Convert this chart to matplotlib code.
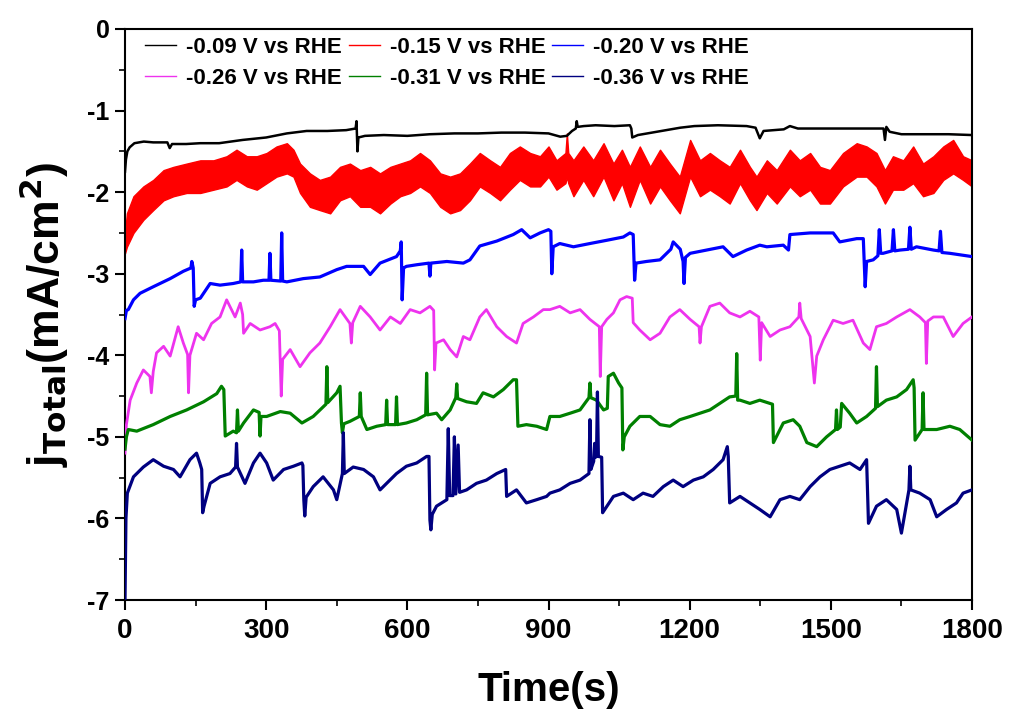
import matplotlib
matplotlib.use("Agg")
import matplotlib.pyplot as plt
from matplotlib.lines import Line2D
from matplotlib.ticker import MultipleLocator

# ---------------- data ----------------
labels = ["-0.09 V vs RHE", "-0.15 V vs RHE", "-0.20 V vs RHE",
          "-0.26 V vs RHE", "-0.31 V vs RHE", "-0.36 V vs RHE"]
colors = ["#000000", "#ff0000", "#0000ff", "#ee33ee", "#008000", "#000080"]

black_t = [0, 2, 5, 10, 20, 40, 60, 90, 95, 100, 130, 160, 200, 250, 300, 344, 386, 430, 470, 490,
           492, 494, 496, 510, 550, 600, 648, 700, 750, 800, 850, 900, 925, 939, 950, 958, 960, 962,
           975, 1000, 1040, 1073, 1076, 1078, 1090, 1120, 1150, 1180, 1210, 1260, 1321, 1340, 1349,
           1357, 1400, 1413, 1430, 1480, 1530, 1580, 1612, 1615, 1618, 1625, 1650, 1700, 1750, 1800]
black_j = [-1.75, -1.60, -1.50, -1.45, -1.40, -1.38, -1.39, -1.39, -1.46, -1.41, -1.41, -1.40, -1.40,
           -1.36, -1.33, -1.28, -1.25, -1.25, -1.24, -1.22, -1.13, -1.50, -1.33, -1.31, -1.30, -1.31,
           -1.29, -1.28, -1.28, -1.27, -1.27, -1.28, -1.32, -1.31, -1.25, -1.22, -1.13, -1.20, -1.19,
           -1.18, -1.19, -1.18, -1.22, -1.33, -1.30, -1.27, -1.24, -1.21, -1.19, -1.18, -1.19, -1.21,
           -1.34, -1.25, -1.23, -1.19, -1.22, -1.22, -1.22, -1.22, -1.22, -1.36, -1.20, -1.26, -1.29,
           -1.29, -1.29, -1.30]

red_t = [0, 4, 18, 39, 60, 82, 103, 131, 160, 188, 216, 237, 259, 280, 301, 322, 344, 358, 372, 393,
         414, 436, 457, 478, 500, 521, 542, 564, 585, 606, 627, 648, 670, 691, 712, 733, 754, 776,
         797, 818, 839, 861, 882, 900, 917, 936, 939, 942, 953, 974, 995, 1017, 1038, 1056, 1073,
         1094, 1116, 1137, 1158, 1179, 1201, 1222, 1243, 1264, 1285, 1307, 1328, 1342, 1364, 1385,
         1413, 1434, 1456, 1477, 1498, 1526, 1555, 1576, 1597, 1615, 1632, 1654, 1675, 1696, 1718,
         1739, 1760, 1781, 1800]
red_hi = [-2.50, -2.26, -2.05, -1.93, -1.85, -1.73, -1.69, -1.65, -1.61, -1.61, -1.56, -1.48, -1.56,
          -1.56, -1.52, -1.44, -1.40, -1.48, -1.65, -1.77, -1.85, -1.81, -1.69, -1.65, -1.73, -1.69,
          -1.77, -1.69, -1.65, -1.61, -1.52, -1.61, -1.77, -1.81, -1.77, -1.65, -1.52, -1.61, -1.69,
          -1.52, -1.44, -1.52, -1.56, -1.44, -1.61, -1.52, -1.28, -1.52, -1.61, -1.44, -1.61, -1.40,
          -1.65, -1.48, -1.69, -1.44, -1.69, -1.48, -1.65, -1.81, -1.36, -1.61, -1.52, -1.61, -1.69,
          -1.48, -1.69, -1.81, -1.61, -1.73, -1.48, -1.61, -1.52, -1.69, -1.73, -1.52, -1.40, -1.44,
          -1.52, -1.73, -1.56, -1.61, -1.44, -1.65, -1.56, -1.44, -1.36, -1.56, -1.61]
red_lo = [-2.75, -2.67, -2.50, -2.34, -2.22, -2.10, -2.05, -2.01, -2.01, -1.97, -1.93, -1.85, -1.93,
          -1.97, -1.89, -1.81, -1.77, -1.81, -2.01, -2.18, -2.22, -2.26, -2.10, -2.05, -2.18, -2.18,
          -2.26, -2.14, -2.05, -2.01, -1.93, -2.01, -2.18, -2.26, -2.22, -2.10, -1.93, -2.01, -2.10,
          -1.97, -1.85, -1.93, -1.93, -1.81, -1.97, -1.89, -1.81, -1.89, -2.05, -1.85, -2.05, -1.81,
          -2.10, -1.89, -2.18, -1.85, -2.14, -1.93, -2.10, -2.26, -1.81, -2.05, -1.97, -2.05, -2.14,
          -1.89, -2.10, -2.22, -2.01, -2.14, -1.93, -2.05, -1.97, -2.14, -2.14, -1.93, -1.81, -1.81,
          -1.93, -2.14, -1.97, -1.97, -1.89, -2.05, -2.01, -1.85, -1.77, -1.85, -1.93]

blue_t = [0, 3, 7, 18, 32, 60, 96, 124, 140, 142, 145, 147, 150, 160, 181, 202, 230, 246, 248, 250,
          273, 294, 306, 308, 310, 331, 333, 335, 344, 379, 414, 450, 471, 507, 521, 542, 577, 585,
          587, 589, 592, 598, 620, 646, 648, 650, 684, 719, 733, 754, 790, 825, 843, 861, 882, 900,
          905, 907, 910, 924, 953, 988, 1024, 1059, 1073, 1080, 1083, 1086, 1108, 1137, 1160, 1165,
          1180, 1186, 1188, 1191, 1201, 1236, 1271, 1292, 1321, 1349, 1364, 1399, 1410, 1413, 1456,
          1505, 1519, 1555, 1569, 1573, 1576, 1590, 1600, 1603, 1606, 1611, 1630, 1633, 1636, 1647,
          1665, 1668, 1671, 1682, 1718, 1730, 1733, 1736, 1753, 1800]
blue_j = [-3.55, -3.45, -3.44, -3.32, -3.24, -3.16, -3.06, -2.97, -2.93, -2.85, -2.93, -3.40, -3.32,
          -3.30, -3.12, -3.14, -3.12, -3.10, -2.71, -3.10, -3.10, -3.08, -3.08, -2.75, -3.08, -3.09,
          -2.50, -3.09, -3.10, -3.06, -3.04, -2.95, -2.91, -2.91, -3.01, -2.87, -2.79, -2.72, -2.61,
          -3.32, -2.93, -2.91, -2.89, -2.87, -3.03, -2.87, -2.85, -2.87, -2.83, -2.66, -2.60, -2.52,
          -2.46, -2.56, -2.50, -2.46, -2.48, -3.00, -2.67, -2.63, -2.67, -2.63, -2.59, -2.55, -2.50,
          -2.52, -3.08, -2.87, -2.85, -2.83, -2.70, -2.61, -2.70, -2.85, -3.12, -2.80, -2.75, -2.71,
          -2.67, -2.79, -2.71, -2.65, -2.67, -2.65, -2.71, -2.52, -2.50, -2.50, -2.61, -2.57, -2.57,
          -3.16, -2.85, -2.83, -2.78, -2.46, -2.75, -2.75, -2.72, -2.46, -2.72, -2.71, -2.70, -2.43,
          -2.70, -2.67, -2.71, -2.72, -2.48, -2.74, -2.75, -2.79]

mag_t = [0, 3, 11, 25, 39, 53, 56, 60, 67, 82, 96, 113, 124, 133, 135, 138, 152, 167, 184, 202, 216,
         234, 245, 250, 252, 266, 287, 308, 319, 328, 330, 332, 335, 351, 372, 393, 414, 436, 457, 478,
         481, 484, 500, 521, 542, 564, 585, 606, 627, 648, 656, 658, 661, 677, 691, 705, 719, 733, 754,
         768, 790, 811, 832, 846, 868, 889, 903, 924, 946, 967, 988, 1008, 1010, 1013, 1024, 1038,
         1052, 1066, 1078, 1080, 1094, 1116, 1137, 1158, 1179, 1201, 1220, 1222, 1225, 1243, 1264,
         1285, 1307, 1328, 1347, 1350, 1353, 1371, 1392, 1413, 1432, 1434, 1437, 1456, 1465, 1470,
         1484, 1505, 1526, 1547, 1569, 1583, 1597, 1618, 1640, 1668, 1689, 1701, 1703, 1706, 1718,
         1739, 1760, 1781, 1800]
mag_j = [-5.20, -4.85, -4.55, -4.34, -4.18, -4.26, -4.46, -4.20, -3.97, -3.89, -4.01, -3.65, -3.85,
         -3.99, -4.46, -4.00, -3.73, -3.81, -3.61, -3.53, -3.32, -3.53, -3.36, -3.50, -3.73, -3.61,
         -3.69, -3.65, -3.61, -3.70, -4.10, -4.50, -4.05, -3.93, -4.14, -3.97, -3.85, -3.65, -3.44,
         -3.61, -3.85, -3.60, -3.40, -3.53, -3.69, -3.53, -3.61, -3.44, -3.48, -3.40, -3.45, -4.18,
         -3.85, -3.81, -3.93, -4.02, -3.77, -3.81, -3.53, -3.44, -3.65, -3.77, -3.85, -3.61, -3.53,
         -3.44, -3.44, -3.40, -3.48, -3.44, -3.56, -3.65, -4.26, -3.65, -3.56, -3.48, -3.32, -3.28,
         -3.30, -3.60, -3.69, -3.81, -3.73, -3.53, -3.44, -3.56, -3.65, -3.85, -3.65, -3.40, -3.36,
         -3.48, -3.53, -3.46, -3.53, -4.06, -3.60, -3.77, -3.69, -3.65, -3.53, -3.36, -3.55, -3.77,
         -4.34, -4.01, -3.81, -3.57, -3.61, -3.57, -3.85, -3.93, -3.65, -3.61, -3.53, -3.44, -3.53,
         -3.60, -4.10, -3.58, -3.53, -3.53, -3.77, -3.61, -3.53]

green_t = [0, 3, 7, 25, 60, 96, 131, 167, 195, 205, 210, 213, 230, 237, 239, 241, 252, 273, 285, 287,
           289, 301, 330, 351, 376, 400, 427, 429, 431, 450, 457, 460, 462, 465, 478, 498, 500, 502,
           514, 535, 554, 556, 558, 575, 577, 579, 598, 620, 639, 641, 643, 662, 673, 691, 703, 705,
           707, 726, 747, 761, 783, 804, 825, 832, 835, 853, 875, 896, 903, 924, 946, 967, 986, 988,
           990, 1002, 1017, 1025, 1027, 1038, 1049, 1056, 1058, 1061, 1073, 1094, 1116, 1137, 1158,
           1179, 1201, 1222, 1243, 1264, 1285, 1298, 1300, 1302, 1307, 1328, 1349, 1371, 1376, 1378,
           1399, 1420, 1434, 1449, 1470, 1491, 1510, 1512, 1514, 1520, 1523, 1540, 1555, 1576, 1595,
           1597, 1599, 1618, 1640, 1661, 1675, 1677, 1679, 1694, 1696, 1698, 1725, 1753, 1774, 1800]
green_j = [-5.15, -5.00, -4.91, -4.93, -4.85, -4.75, -4.67, -4.57, -4.47, -4.38, -4.42, -4.99, -4.93,
           -4.95, -4.67, -4.93, -4.83, -4.67, -4.70, -4.99, -4.75, -4.75, -4.69, -4.71, -4.83, -4.75,
           -4.60, -4.14, -4.58, -4.46, -4.38, -4.83, -4.95, -4.84, -4.81, -4.75, -4.46, -4.75, -4.91,
           -4.87, -4.85, -4.55, -4.85, -4.85, -4.51, -4.85, -4.83, -4.79, -4.73, -4.22, -4.73, -4.71,
           -4.79, -4.67, -4.52, -4.35, -4.53, -4.57, -4.59, -4.46, -4.51, -4.42, -4.30, -4.30, -4.87,
           -4.85, -4.87, -4.91, -4.75, -4.75, -4.71, -4.67, -4.52, -4.34, -4.52, -4.55, -4.67, -4.65,
           -4.26, -4.22, -4.34, -4.40, -5.16, -5.00, -4.87, -4.75, -4.75, -4.85, -4.87, -4.79, -4.75,
           -4.71, -4.67, -4.59, -4.51, -4.50, -3.98, -4.55, -4.55, -4.59, -4.55, -4.59, -4.60, -5.07,
           -4.83, -4.79, -4.87, -5.07, -5.12, -5.00, -4.91, -4.67, -4.91, -4.88, -4.59, -4.71, -4.83,
           -4.75, -4.65, -4.14, -4.63, -4.55, -4.51, -4.42, -4.30, -4.40, -5.04, -4.91, -4.46, -4.91,
           -4.91, -4.87, -4.91, -5.04]

navy_t = [0, 1, 2, 5, 18, 39, 60, 82, 103, 117, 138, 152, 159, 163, 165, 168, 181, 202, 223, 235, 237,
          239, 255, 273, 287, 301, 315, 337, 358, 376, 378, 380, 382, 385, 400, 421, 443, 450, 462,
          464, 466, 485, 507, 528, 542, 556, 577, 598, 620, 641, 646, 648, 650, 653, 662, 684, 687,
          690, 697, 700, 703, 708, 711, 726, 747, 768, 790, 809, 811, 832, 853, 875, 896, 903, 924,
          946, 967, 986, 988, 990, 996, 998, 1000, 1002, 1004, 1006, 1013, 1015, 1038, 1059, 1080,
          1101, 1122, 1144, 1165, 1186, 1208, 1229, 1250, 1271, 1280, 1282, 1285, 1307, 1328, 1349,
          1371, 1392, 1413, 1434, 1456, 1477, 1498, 1519, 1540, 1562, 1576, 1580, 1597, 1618, 1640,
          1650, 1660, 1666, 1668, 1670, 1689, 1711, 1725, 1746, 1767, 1781, 1800]
navy_j = [-7.00, -6.50, -6.00, -5.69, -5.49, -5.37, -5.28, -5.36, -5.40, -5.49, -5.28, -5.20, -5.32,
          -5.40, -5.93, -5.85, -5.57, -5.49, -5.45, -5.37, -5.08, -5.37, -5.57, -5.32, -5.20, -5.32,
          -5.53, -5.40, -5.36, -5.32, -5.35, -5.77, -5.97, -5.74, -5.61, -5.49, -5.65, -5.77, -5.45,
          -4.95, -5.45, -5.37, -5.40, -5.49, -5.65, -5.57, -5.45, -5.36, -5.32, -5.24, -5.24, -6.02,
          -6.14, -5.95, -5.85, -5.77, -4.90, -5.72, -5.72, -5.00, -5.70, -5.10, -5.68, -5.65, -5.57,
          -5.53, -5.45, -5.40, -5.73, -5.65, -5.81, -5.77, -5.73, -5.69, -5.65, -5.57, -5.53, -5.45,
          -4.79, -5.40, -5.30, -5.08, -5.25, -5.24, -4.45, -5.24, -5.25, -5.93, -5.73, -5.69, -5.77,
          -5.69, -5.73, -5.61, -5.53, -5.61, -5.53, -5.49, -5.40, -5.28, -5.12, -5.24, -5.81, -5.73,
          -5.81, -5.89, -5.98, -5.77, -5.73, -5.77, -5.61, -5.49, -5.40, -5.36, -5.32, -5.40, -5.28,
          -6.06, -5.85, -5.77, -5.89, -6.18, -5.85, -5.65, -5.36, -5.65, -5.69, -5.77, -5.98, -5.89,
          -5.81, -5.69, -5.65]

x_ticks = [0, 300, 600, 900, 1200, 1500, 1800]
y_ticks = [0, -1, -2, -3, -4, -5, -6, -7]

# ---------------- figure ----------------
W, H = 1011, 709
fig = plt.figure(figsize=(W / 100, H / 100), dpi=100)
ax = fig.add_axes([125 / W, 1 - 600 / H, (972 - 125) / W, (600 - 29) / H])

LW = 2.3
ax.plot(black_t, black_j, color=colors[0], lw=1.8, zorder=3)
ax.fill_between(red_t, red_lo, red_hi, color=colors[1], lw=1.0, zorder=2)
ax.plot(blue_t, blue_j, color=colors[2], lw=LW, zorder=3)
ax.plot(mag_t, mag_j, color=colors[3], lw=2.0, zorder=3)
ax.plot(green_t, green_j, color=colors[4], lw=LW, zorder=3)
ax.plot(navy_t, navy_j, color=colors[5], lw=LW, zorder=3)

ax.set_xlim(0, 1800)
ax.set_ylim(-7, 0)
ax.set_xticks(x_ticks)
ax.set_yticks(y_ticks)
ax.xaxis.set_minor_locator(MultipleLocator(150))
ax.yaxis.set_minor_locator(MultipleLocator(0.5))
ax.tick_params(which="major", direction="out", length=7, width=1.5)
ax.tick_params(which="minor", direction="out", length=4, width=1.2)
for s in ax.spines.values():
    s.set_linewidth(1.5)

narrow = ["Liberation Sans Narrow", "Liberation Sans", "DejaVu Sans"]
ax.set_xticklabels([str(v) for v in x_ticks], family=narrow, weight="bold", size=20)
ax.set_yticklabels([str(v) for v in y_ticks], family="Liberation Sans", weight="bold", size=18)
ax.tick_params(axis="x", pad=6)
ax.tick_params(axis="y", pad=4)

ax.set_xlabel("Time(s)", family=narrow, weight="bold", size=29)
ax.xaxis.set_label_coords(0.5, -0.124)
ax.set_ylabel(r"j$_{\mathbf{Total}}$(mA/cm$^{\mathbf{2}}$)", family="Liberation Sans",
              weight="bold", size=32)
ax.yaxis.set_label_coords(-0.064, 0.5)

# legend (row-wise order for 3 columns)
handles = [Line2D([], [], color=c, lw=1.0) for c in colors]
order = [0, 3, 1, 4, 2, 5]
ax.legend([handles[i] for i in order], [labels[i] for i in order], ncol=3, loc="upper left",
          bbox_to_anchor=(20 / 847, 1 - 8 / 571), frameon=False, borderpad=0, borderaxespad=0,
          handlelength=1.4, handletextpad=0.45, columnspacing=0.3, labelspacing=0.45,
          prop=dict(family="Liberation Sans", weight="bold", size=16))

fig.savefig("out.png", dpi=100)
